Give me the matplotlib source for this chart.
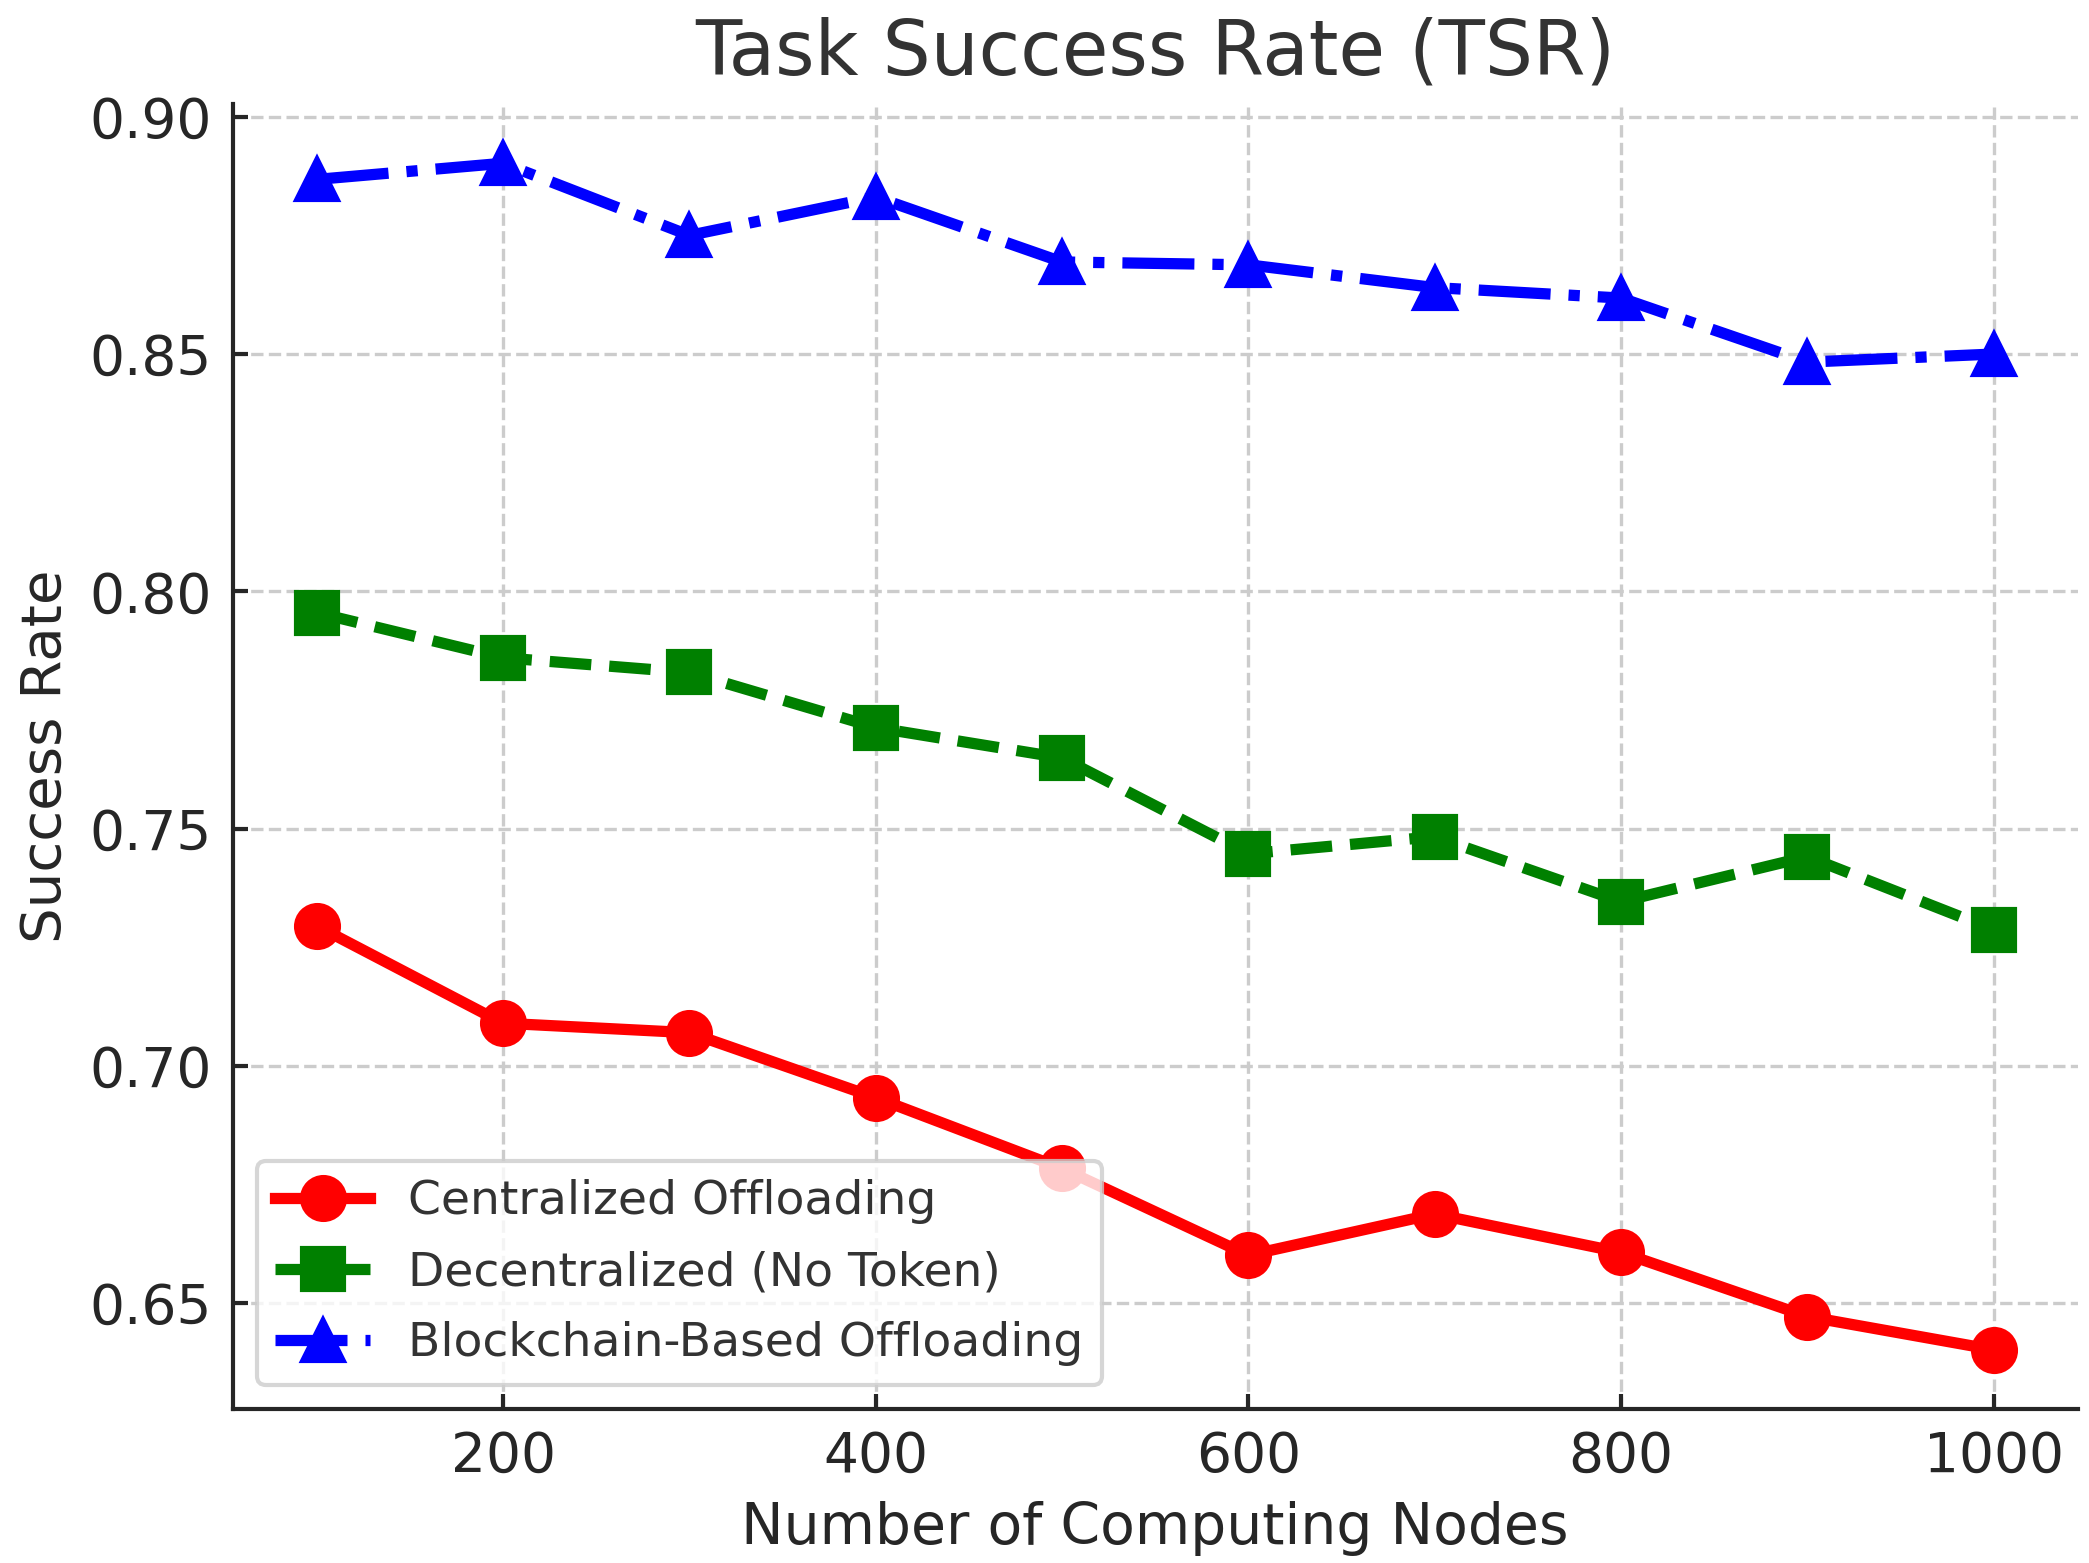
import matplotlib
matplotlib.use("Agg")
import matplotlib.pyplot as plt

# data
nodes = [100, 200, 300, 400, 500, 600, 700, 800, 900, 1000]
centralized = [0.7295, 0.7090, 0.7070, 0.6933, 0.6784, 0.6601, 0.6688, 0.6607, 0.6472, 0.6402]
decentralized = [0.7955, 0.7860, 0.7829, 0.7713, 0.7649, 0.7447, 0.7483, 0.7346, 0.7441, 0.7287]
blockchain = [0.8868, 0.8902, 0.8750, 0.8831, 0.8694, 0.8688, 0.8640, 0.8618, 0.8483, 0.8500]

labels = ["Centralized Offloading", "Decentralized (No Token)", "Blockchain-Based Offloading"]

textc = "#262626"
plt.rcParams['font.family'] = ['DejaVu Sans']

fig = plt.figure(figsize=(2089/300, 1563/300), dpi=300)
ax = fig.add_axes([0.1115, 0.0985, 0.883, 0.835])

lw = 2.7
ms = 10.3
ax.plot(nodes, centralized, "-", marker="o", color="red", linewidth=lw, markersize=ms, label=labels[0])
ax.plot(nodes, decentralized, "--", marker="s", color="green", linewidth=lw, markersize=ms, label=labels[1])
ax.plot(nodes, blockchain, "-.", marker="^", color="blue", linewidth=lw, markersize=ms, label=labels[2])

ax.set_title("Task Success Rate (TSR)", fontsize=18.2, color="#333333", pad=7)
ax.set_xlabel("Number of Computing Nodes", fontsize=13.65, color=textc)
ax.set_ylabel("Success Rate", fontsize=13.5, color=textc)

ax.set_xticks([200, 400, 600, 800, 1000])
ax.set_yticks([0.65, 0.70, 0.75, 0.80, 0.85, 0.90])
ax.set_yticklabels(["0.65", "0.70", "0.75", "0.80", "0.85", "0.90"])
ax.tick_params(direction="in", length=3.5, width=1.0, labelsize=13.2, colors=textc, pad=5)

ax.grid(True, linestyle="--", linewidth=0.8, color="#cccccc")
for s in ["top", "right"]:
    ax.spines[s].set_visible(False)
for s in ["left", "bottom"]:
    ax.spines[s].set_linewidth(1.0)
    ax.spines[s].set_color(textc)

leg = ax.legend(loc="lower left", fontsize=11.35, framealpha=0.8, edgecolor="#cccccc",
                labelspacing=0.55)
for t in leg.get_texts():
    t.set_color("#333333")

fig.savefig("out.png", dpi=300)
